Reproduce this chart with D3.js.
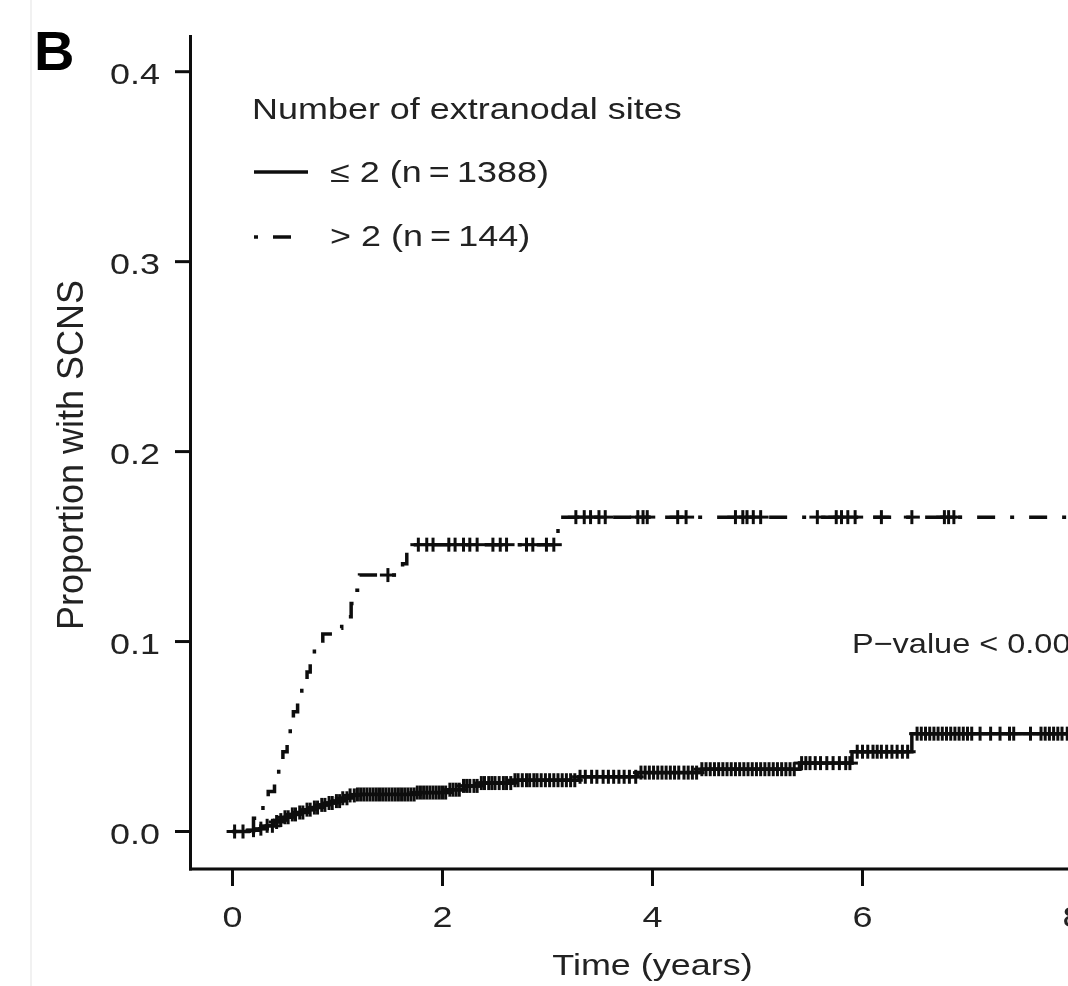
<!DOCTYPE html>
<html>
<head>
<meta charset="utf-8">
<script src="https://cdnjs.cloudflare.com/ajax/libs/d3/7.8.5/d3.min.js"></script>
<style>
  body { margin: 0; background: #fff; }
  text { font-family: 'Liberation Sans', Arial, Helvetica, sans-serif; fill: #222; }
</style>
</head>
<body>
<div id="km"></div>
<script>
// axis ticks
const xTicks = [0, 2, 4, 6, 8];
const yTicks = [0.0, 0.1, 0.2, 0.3, 0.4];

// <= 2 extranodal sites: step times and cumulative proportion
const solidTime = [0, 0.15, 0.26, 0.33, 0.39, 0.45, 0.5, 0.55, 0.62, 0.7, 0.77, 0.83, 0.9, 0.96,
    1.03, 1.1, 1.18, 1.75, 2.05, 2.2, 2.36, 2.66, 3.3, 3.86, 4.47, 5.4, 5.9, 6.47, 8.4];
const solidValue = [0, 0.0007, 0.0015, 0.003, 0.005, 0.006, 0.0075, 0.009, 0.010, 0.0115, 0.0126, 0.014, 0.015, 0.016,
    0.0175, 0.019, 0.0195, 0.0205, 0.022, 0.024, 0.0255, 0.027, 0.0288, 0.031, 0.0328, 0.036, 0.042, 0.0515, 0.0515];
// censored times (+ marks)
const solidCensor = [0.02, 0.1, 0.2, 0.27, 0.33, 0.38, 0.42, 0.46, 0.5, 0.53, 0.57, 0.6, 0.64, 0.67, 0.71, 0.74,
    0.78, 0.81, 0.85, 0.88, 0.92, 0.95, 0.99, 1.02, 1.05, 1.09, 1.12, 1.16, 1.19,
    1.22, 1.25, 1.28, 1.31, 1.34, 1.37, 1.4, 1.43, 1.46, 1.49, 1.52, 1.55, 1.58, 1.61, 1.64, 1.67, 1.7,
    1.73, 1.76, 1.79, 1.82, 1.85, 1.88, 1.91, 1.94, 1.97, 2.0, 2.03, 2.07, 2.1, 2.13, 2.16, 2.2, 2.23,
    2.26, 2.3, 2.33, 2.37, 2.4, 2.44, 2.47, 2.5, 2.54, 2.58, 2.61, 2.65, 2.69, 2.72, 2.76, 2.8, 2.83,
    2.87, 2.9, 2.94, 2.98, 3.02, 3.06, 3.1, 3.14, 3.18, 3.22, 3.26, 3.31, 3.36, 3.42, 3.47, 3.53, 3.58,
    3.63, 3.68, 3.73, 3.78, 3.84, 3.89, 3.93, 3.97, 4.01, 4.05, 4.09, 4.13, 4.17, 4.21, 4.25, 4.3, 4.34,
    4.38, 4.42, 4.47, 4.51, 4.55, 4.59, 4.63, 4.67, 4.71, 4.75, 4.79, 4.83, 4.87, 4.91, 4.95, 4.99, 5.03,
    5.07, 5.11, 5.15, 5.19, 5.23, 5.27, 5.31, 5.35, 5.42, 5.46, 5.5, 5.55, 5.6, 5.66, 5.72, 5.78, 5.84,
    5.88, 5.95, 6.0, 6.05, 6.1, 6.14, 6.18, 6.23, 6.28, 6.33, 6.38, 6.43,
    6.52, 6.56, 6.6, 6.64, 6.68, 6.72, 6.76, 6.8, 6.84, 6.88, 6.92, 6.96, 7.0, 7.04, 7.12, 7.22, 7.31,
    7.4, 7.44, 7.6, 7.7, 7.74, 7.78, 7.82, 7.86, 7.9, 7.95, 8.0];

// > 2 extranodal sites
const dashTime = [0, 0.2, 0.29, 0.34, 0.4, 0.44, 0.48, 0.52, 0.55, 0.58, 0.62, 0.66, 0.71, 0.74, 0.78,
    0.86, 0.96, 1.04, 1.13, 1.16, 1.21, 1.62, 1.66, 1.69, 3.1, 8.4];
const dashValue = [0, 0.007, 0.014, 0.021, 0.028, 0.035, 0.042, 0.049, 0.056, 0.063, 0.07, 0.077, 0.084, 0.091, 0.098,
    0.104, 0.107, 0.113, 0.12, 0.127, 0.135, 0.141, 0.147, 0.151, 0.1655, 0.1655];
const dashCensor = [1.48, 1.77, 1.85, 1.91, 2.06, 2.12, 2.2, 2.26, 2.33, 2.48, 2.55, 2.61, 2.8, 2.86, 2.99,
    3.06, 3.27, 3.35, 3.41, 3.49, 3.55, 3.86, 3.91, 3.95, 4.24, 4.32, 4.79, 4.86, 4.9, 4.96, 5.03, 5.57,
    5.75, 5.8, 5.86, 5.93, 6.18, 6.47, 6.78, 6.82, 6.87];

// legend labels
const legendTitle = 'Number of extranodal sites';
const legendLabels = ['\u2264 2 (n\u2009=\u20091388)', '> 2 (n\u2009=\u2009144)'];

// constants for svg
const width = 1068;
const height = 986;
const stretch = 1.24; // the figure is wider than it is tall
const fontSize = 29;
const lineColor = '#0d0d0d';
const dotDash = '4,15,18,15';

const svg = d3.select('#km')
    .append('svg')
    .attr('width', width)
    .attr('height', height);

svg.append('defs').append('filter')
    .attr('id', 'soft')
    .append('feGaussianBlur')
    .attr('stdDeviation', 0.7);

const g = svg.append('g').attr('filter', 'url(#soft)');

// faint frame line at the left
g.append('line')
    .attr('x1', 31).attr('x2', 31)
    .attr('y1', 0).attr('y2', height)
    .attr('stroke', '#ececec')
    .attr('stroke-width', 1.5);

// scales
const x = d3.scaleLinear().domain([0, 8]).range([232.5, 1072.5]);
const y = d3.scaleLinear().domain([0, 0.4]).range([831.5, 71.7]);

// helper for the wide horizontal text
function addText(px, py, str, anchor, size, sx) {
    return g.append('text')
        .attr('transform', 'translate(' + px + ',' + py + ') scale(' + (sx || stretch) + ',1)')
        .attr('text-anchor', anchor)
        .style('font-size', size + 'px')
        .text(str);
}

// Y axis
g.append('line')
    .attr('x1', 190.5).attr('x2', 190.5)
    .attr('y1', 35).attr('y2', 870.5)
    .attr('stroke', lineColor)
    .attr('stroke-width', 3);
g.selectAll('.ytick')
    .data(yTicks)
    .join('line')
    .attr('class', 'ytick')
    .attr('x1', 175).attr('x2', 190.5)
    .attr('y1', d => y(d)).attr('y2', d => y(d))
    .attr('stroke', lineColor)
    .attr('stroke-width', 3);
yTicks.forEach(d => addText(160, y(d) + 12.5, d3.format('.1f')(d), 'end', fontSize));

// X axis
g.append('line')
    .attr('x1', 189).attr('x2', width + 10)
    .attr('y1', 869).attr('y2', 869)
    .attr('stroke', lineColor)
    .attr('stroke-width', 3);
g.selectAll('.xtick')
    .data(xTicks)
    .join('line')
    .attr('class', 'xtick')
    .attr('x1', d => x(d)).attr('x2', d => x(d))
    .attr('y1', 869).attr('y2', 886)
    .attr('stroke', lineColor)
    .attr('stroke-width', 3);
xTicks.forEach(d => addText(x(d), 926.5, String(d), 'middle', fontSize));

// axis titles
addText(652.5, 975, 'Time (years)', 'middle', fontSize);
g.append('text')
    .attr('transform', 'translate(83,455) rotate(-90)')
    .attr('text-anchor', 'middle')
    .style('font-size', '36px')
    .text('Proportion with SCNS');

// panel letter
g.append('text')
    .attr('x', 34).attr('y', 70)
    .style('font-size', '56px')
    .style('font-weight', 'bold')
    .style('fill', '#000')
    .text('B');

// step curves
const step = d3.line()
    .x(d => x(d[0]))
    .y(d => y(d[1]))
    .curve(d3.curveStepAfter);

g.append('path')
    .datum(d3.zip(solidTime, solidValue))
    .attr('d', step)
    .attr('fill', 'none')
    .attr('stroke', lineColor)
    .attr('stroke-width', 3.5);

g.append('path')
    .datum(d3.zip(dashTime, dashValue))
    .attr('d', step)
    .attr('fill', 'none')
    .attr('stroke', lineColor)
    .attr('stroke-width', 3.5)
    .attr('stroke-dasharray', dotDash);

// value of a step curve at time t
function valueAt(times, values, t) {
    const i = d3.bisectRight(times, t) - 1;
    return values[Math.max(0, i)];
}

// censoring marks (+)
function drawMarks(times, values, censor) {
    const marks = g.append('g')
        .attr('stroke', lineColor)
        .attr('stroke-width', 3);
    censor.forEach(t => {
        const cx = x(t);
        const cy = y(valueAt(times, values, t));
        marks.append('line')
            .attr('x1', cx).attr('x2', cx)
            .attr('y1', cy - 7).attr('y2', cy + 7);
        marks.append('line')
            .attr('x1', cx - 8).attr('x2', cx + 8)
            .attr('y1', cy).attr('y2', cy);
    });
}
drawMarks(solidTime, solidValue, solidCensor);
drawMarks(dashTime, dashValue, dashCensor);

// legend
addText(252, 118.5, legendTitle, 'start', fontSize);
g.append('line')
    .attr('x1', 254).attr('x2', 308)
    .attr('y1', 172).attr('y2', 172)
    .attr('stroke', lineColor)
    .attr('stroke-width', 3.5);
g.append('line')
    .attr('x1', 254).attr('x2', 296)
    .attr('y1', 237).attr('y2', 237)
    .attr('stroke', lineColor)
    .attr('stroke-width', 3.5)
    .attr('stroke-dasharray', dotDash);
addText(330, 182, legendLabels[0], 'start', fontSize);
addText(330, 245.5, legendLabels[1], 'start', fontSize);

// test result, cut by the right edge as in the figure
addText(852, 653, 'P\u2212value < 0.001', 'start', 28, 1.16);
</script>
</body>
</html>
